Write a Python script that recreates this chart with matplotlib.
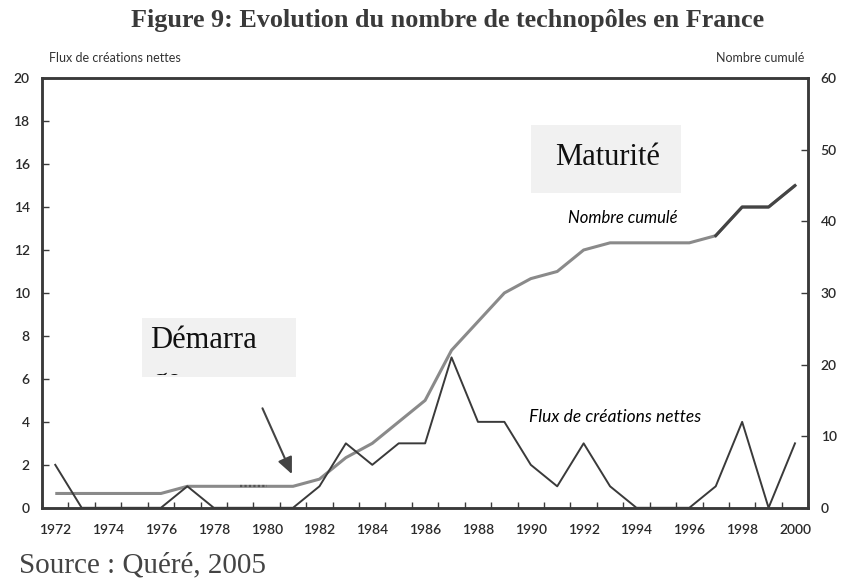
import matplotlib
matplotlib.use("Agg")
import matplotlib.pyplot as plt
from matplotlib.patches import Rectangle
import numpy as np

# données
years = list(range(1972, 2001))
flux = [2, 0, 0, 0, 0, 1, 0, 0, 0, 0, 1, 3, 2, 3, 3, 7, 4, 4, 2, 1, 3, 1, 0, 0, 0, 1, 4, 0, 3]
cumul = [2, 2, 2, 2, 2, 3, 3, 3, 3, 3, 4, 7, 9, 12, 15, 22, 26, 30, 32, 33, 36, 37, 37, 37, 37, 38, 42, 42, 45]
year_labels = list(range(1972, 2001, 2))
left_ticks = list(range(0, 21, 2))
right_ticks = list(range(0, 61, 10))

SANS = ["Lato", "DejaVu Sans"]
SERIF = ["Liberation Serif", "DejaVu Serif"]
DARK = "#3a3a3a"

fig = plt.figure(figsize=(8.41, 5.83), dpi=100)
ax = fig.add_axes([0.05, 0.129, 0.911, 0.737])
ax2 = ax.twinx()

# nombre cumulé (axe droit)
ax2.plot(years, cumul, color="#8a8a8a", lw=2.2, solid_capstyle="butt")
ax2.plot(years[25:], cumul[25:], color="#444444", lw=2.2)
ax2.plot(years[7:9], cumul[7:9], color="#555555", lw=1.6, ls=(0, (1, 1)))
ax2.set_ylim(0, 60)
ax2.set_yticks(right_ticks)

# flux de créations nettes (axe gauche)
ax.plot(years, flux, color=DARK, lw=1.4)
ax.set_ylim(0, 20)
ax.set_yticks(left_ticks)
ax.set_xlim(1971.5, 2000.5)
ax.set_xticks(year_labels)
ax.set_xticks(np.arange(1971.5, 2000.6, 1), minor=True)
ax.set_zorder(ax2.get_zorder() + 1)
ax.patch.set_visible(False)

for a in (ax, ax2):
    for sp in a.spines.values():
        sp.set_linewidth(1.8)
        sp.set_color(DARK)
ax.tick_params(axis="x", which="major", length=0, pad=12)
ax.tick_params(axis="x", which="minor", direction="in", length=4, width=1, color=DARK)
ax.tick_params(axis="y", direction="in", length=5, width=1, color=DARK, pad=9)
ax2.tick_params(axis="y", direction="in", length=5, width=1, color=DARK, pad=9)
for lab in ax.get_xticklabels() + ax.get_yticklabels() + ax2.get_yticklabels():
    lab.set_fontfamily(SANS)
    lab.set_fontsize(10)
    lab.set_fontweight("semibold")
    lab.set_color("#2a2a2a")

# boîtes d'annotation
ax.add_patch(Rectangle((1990.0, 14.65), 5.7, 3.15, facecolor="#f1f1f1", edgecolor="none", zorder=0))
ax.text(1992.9, 16.3, "Maturité", family=SERIF, fontsize=22, ha="center", va="center", color="#111111")
ax.add_patch(Rectangle((1975.3, 6.1), 5.8, 2.75, facecolor="#f1f1f1", edgecolor="none", zorder=0))
ax.text(1975.6, 7.8, "Démarra", family=SERIF, fontsize=22, ha="left", va="center", color="#111111")
# la suite du mot est coupée par le cadre
ge = ax.text(1975.7, 6.55, "ge", family=SERIF, fontsize=22, ha="left", va="top", color="#111111", clip_on=True)
ge.set_clip_path(Rectangle((1975.3, 6.2), 5.8, 2.0, transform=ax.transData))

ax.text(1993.5, 13.5, "Nombre cumulé", family=SANS, style="italic", fontsize=12, ha="center", va="center")
ax.text(1993.2, 4.23, "Flux de créations nettes", family=SANS, style="italic", fontsize=12.5, ha="center", va="center")

ax.annotate("", xy=(1981.0, 1.45), xytext=(1979.8, 4.75),
            arrowprops=dict(arrowstyle="-|>,head_length=1.0,head_width=0.45", color="#444444", lw=1.5))

# titres
fig.text(0.532, 0.965, "Figure 9: Evolution du nombre de technopôles en France", family=SERIF,
         fontsize=18.8, fontweight="bold", color="#3a3a3a", ha="center", va="center")
fig.text(0.058, 0.9, "Flux de créations nettes", family=SANS, fontsize=9, ha="left", va="center", color="#333333")
fig.text(0.957, 0.9, "Nombre cumulé", family=SANS, fontsize=9, ha="right", va="center", color="#333333")
fig.text(0.022, 0.031, "Source : Quéré, 2005", family=SERIF, fontsize=21, ha="left", va="center", color="#444444")

fig.savefig("out.png", dpi=100)
